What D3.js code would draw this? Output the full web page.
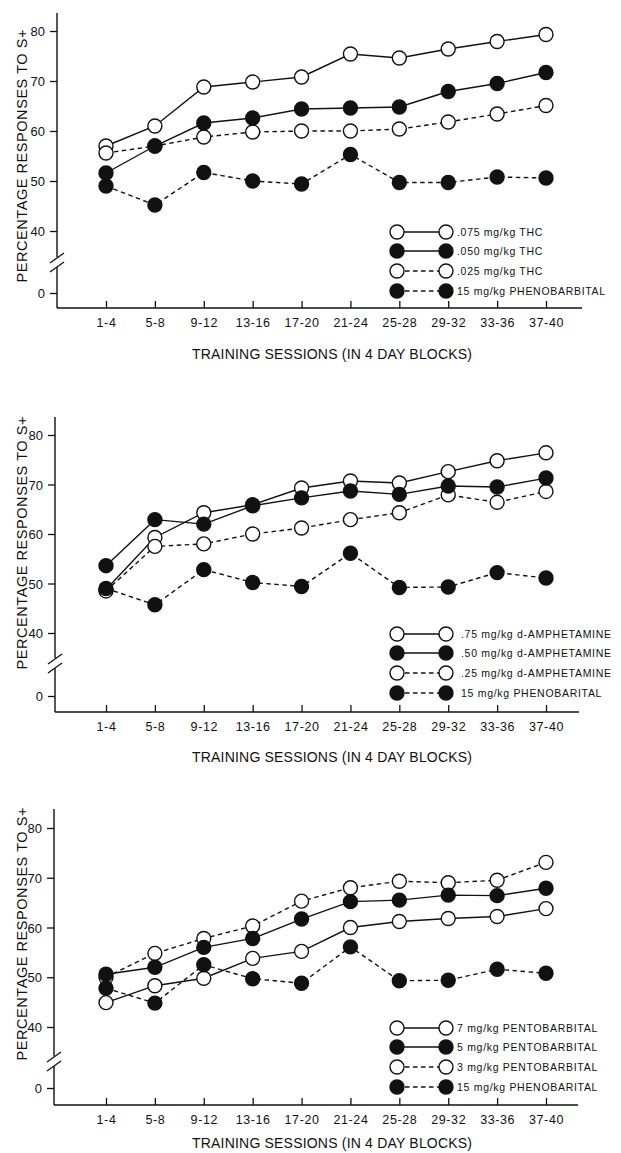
<!DOCTYPE html>
<html>
<head>
<meta charset="utf-8">
<script src="https://cdn.jsdelivr.net/npm/d3@7"></script>
<style>
  body { margin: 0; background: #fff; }
  svg { display: block; }
  text { font-family: "Liberation Sans", Arial, sans-serif; fill: #111; }
  .tick line { stroke: #111; stroke-width: 1.3; }
</style>
</head>
<body>
<script>
// categories / ticks
var sessions = ["1-4", "5-8", "9-12", "13-16", "17-20", "21-24", "25-28", "29-32", "33-36", "37-40"];
var yTicks = [0, 40, 50, 60, 70, 80];

// panel 1 : THC
var thc075 = [57, 61, 68.8, 69.8, 70.8, 75.4, 74.6, 76.4, 77.9, 79.3];
var thc050 = [51.6, 57, 61.6, 62.6, 64.4, 64.6, 64.8, 67.9, 69.5, 71.7];
var thc025 = [55.6, 57, 58.8, 59.8, 60, 60, 60.4, 61.8, 63.4, 65.1];
var pheno1 = [49, 45.2, 51.7, 50, 49.4, 55.3, 49.7, 49.7, 50.8, 50.6];
var thcLabels = [".075 mg/kg THC", ".050 mg/kg THC", ".025 mg/kg THC", "15 mg/kg PHENOBARBITAL"];

// panel 2 : d-amphetamine
var amph75 = [48.8, 59.3, 64.3, 65.9, 69.3, 70.7, 70.3, 72.6, 74.8, 76.4];
var amph50 = [53.6, 62.9, 62.0, 65.7, 67.3, 68.7, 68.0, 69.7, 69.5, 71.3];
var amph25 = [48.5, 57.5, 58.0, 60.0, 61.2, 62.9, 64.3, 67.9, 66.4, 68.6];
var pheno2 = [49.0, 45.7, 52.8, 50.2, 49.4, 56.1, 49.2, 49.3, 52.2, 51.1];
var amphLabels = [".75 mg/kg d-AMPHETAMINE", ".50 mg/kg d-AMPHETAMINE", ".25 mg/kg d-AMPHETAMINE", "15 mg/kg PHENOBARITAL"];

// panel 3 : pentobarbital
var pento7 = [44.9, 48.3, 49.8, 53.8, 55.2, 60.0, 61.2, 61.8, 62.2, 63.8];
var pento5 = [50.6, 52.0, 56.0, 57.8, 61.7, 65.2, 65.5, 66.5, 66.4, 67.9];
var pento3 = [50.0, 54.8, 57.8, 60.3, 65.3, 68.0, 69.3, 69.0, 69.5, 73.1];
var pheno3 = [47.8, 44.8, 52.5, 49.7, 48.8, 56.1, 49.3, 49.4, 51.6, 50.8];
var pentoLabels = ["7 mg/kg PENTOBARBITAL", "5 mg/kg PENTOBARBITAL", "3 mg/kg PENTOBARBITAL", "15 mg/kg PHENOBARITAL"];

var yTitle = "PERCENTAGE RESPONSES TO S+";
var xTitle = "TRAINING SESSIONS (IN 4 DAY BLOCKS)";

// marker style per series position: open/filled, solid/dashed
var styles = [
  {fill: "#fff", dash: null},
  {fill: "#111", dash: null},
  {fill: "#fff", dash: "4.5,3.5"},
  {fill: "#111", dash: "4.5,3.5"}
];

var width = 621, height = 1153;

var svg = d3.select("body")
    .append("svg")
    .attr("width", width)
    .attr("height", height);

var panels = [
  {series: [thc075, thc050, thc025, pheno1], labels: thcLabels,
   axisX: 57, top: 13, y80: 31, y40: 231, y0: 293, base: 308, right: 582,
   brk: 261, yTitleY: 156, xTitleY: 359, legendX: 457},
  {series: [amph75, amph50, amph25, pheno2], labels: amphLabels,
   axisX: 55, top: 417, y80: 435, y40: 633, y0: 696, base: 712, right: 579,
   brk: 662, yTitleY: 543, xTitleY: 762, legendX: 461},
  {series: [pento7, pento5, pento3, pheno3], labels: pentoLabels,
   axisX: 54, top: 809, y80: 828, y40: 1027, y0: 1088, base: 1105, right: 578,
   brk: 1060, yTitleY: 934, xTitleY: 1148, legendX: 457}
];

panels.forEach(drawPanel);

function drawPanel(p) {
    var g = svg.append("g");

    var x = d3.scalePoint()
        .domain(sessions)
        .range([106, 546]);

    // broken axis: 0 sits below the break, 40-80 above it
    var y = d3.scaleLinear()
        .domain([0, 40, 80])
        .range([p.y0, p.y40, p.y80]);

    // y axis
    var yAxis = g.append("g")
        .attr("transform", "translate(" + p.axisX + ",0)")
        .call(d3.axisLeft(y).tickValues(yTicks).tickSize(7).tickPadding(5).tickFormat(d3.format("d")));
    yAxis.select(".domain").remove();
    yAxis.selectAll("text")
        .style("font-size", "13px")
        .attr("dy", "0.36em");

    g.append("line")
        .attr("x1", p.axisX).attr("x2", p.axisX)
        .attr("y1", p.top).attr("y2", p.brk - 4)
        .attr("stroke", "#111").attr("stroke-width", 1.4);
    g.append("line")
        .attr("x1", p.axisX).attr("x2", p.axisX)
        .attr("y1", p.brk + 6).attr("y2", p.base)
        .attr("stroke", "#111").attr("stroke-width", 1.4);
    [p.brk - 3, p.brk + 6].forEach(function(b) {
        g.append("line")
            .attr("x1", p.axisX - 7).attr("y1", b + 5)
            .attr("x2", p.axisX + 7).attr("y2", b - 5)
            .attr("stroke", "#111").attr("stroke-width", 1.3);
    });

    // x axis, ticks pointing up into the plot
    var xAxis = g.append("g")
        .attr("transform", "translate(0," + p.base + ")")
        .call(d3.axisBottom(x).tickSize(-7).tickPadding(10));
    xAxis.select(".domain").remove();
    xAxis.selectAll("text")
        .style("font-size", "12.5px")
        .style("letter-spacing", "0.6px");
    g.append("line")
        .attr("x1", p.axisX).attr("x2", p.right)
        .attr("y1", p.base).attr("y2", p.base)
        .attr("stroke", "#111").attr("stroke-width", 1.4);

    // titles
    g.append("text")
        .attr("x", 332)
        .attr("y", p.xTitleY)
        .attr("text-anchor", "middle")
        .attr("textLength", 280)
        .style("font-size", "14px")
        .text(xTitle);
    g.append("text")
        .attr("transform", "translate(27," + p.yTitleY + ") rotate(-90)")
        .attr("text-anchor", "middle")
        .attr("textLength", 253)
        .style("font-size", "14.5px")
        .text(yTitle);

    var line = d3.line()
        .x(function(d, i) { return x(sessions[i]); })
        .y(function(d) { return y(d); });

    g.selectAll(".series-line")
        .data(p.series)
        .enter().append("path")
        .attr("class", "series-line")
        .attr("d", line)
        .attr("fill", "none")
        .attr("stroke", "#111")
        .attr("stroke-width", 1.4)
        .attr("stroke-dasharray", function(d, i) { return styles[i].dash; });

    // open markers first, filled ones on top
    [0, 2, 1, 3].forEach(function(k) {
        g.selectAll(".m" + k)
            .data(p.series[k])
            .enter().append("circle")
            .attr("class", "m" + k)
            .attr("cx", function(d, i) { return x(sessions[i]); })
            .attr("cy", function(d) { return y(d); })
            .attr("r", 7)
            .attr("fill", styles[k].fill)
            .attr("stroke", "#111")
            .attr("stroke-width", 1.4);
    });

    // legend
    var rowOff = [1, 20, 40, 60];
    var lg = g.selectAll(".legend-row")
        .data(p.labels)
        .enter().append("g")
        .attr("class", "legend-row")
        .attr("transform", function(d, i) { return "translate(0," + (p.y40 + rowOff[i]) + ")"; });
    lg.append("line")
        .attr("x1", 397).attr("x2", 446)
        .attr("stroke", "#111")
        .attr("stroke-width", 1.4)
        .attr("stroke-dasharray", function(d, i) { return styles[i].dash; });
    lg.selectAll("circle")
        .data(function(d, i) { return [i, i]; })
        .enter().append("circle")
        .attr("cx", function(d, j) { return j === 0 ? 397 : 446; })
        .attr("r", 7)
        .attr("fill", function(d) { return styles[d].fill; })
        .attr("stroke", "#111")
        .attr("stroke-width", 1.4);
    lg.append("text")
        .attr("x", p.legendX)
        .attr("y", 4)
        .style("font-size", "10.5px")
        .style("letter-spacing", "0.7px")
        .text(function(d) { return d; });
}
</script>
</body>
</html>
